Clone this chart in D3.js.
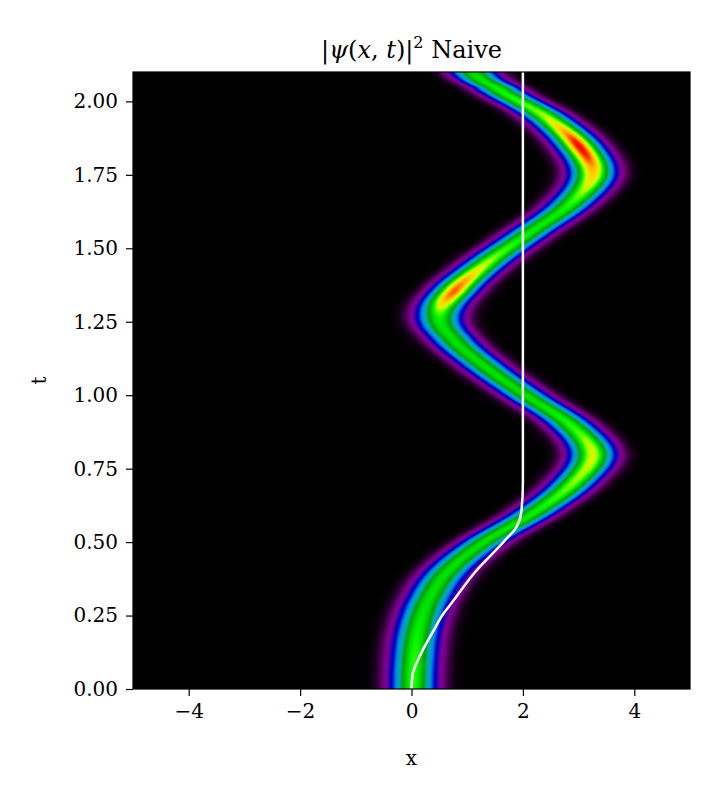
<!DOCTYPE html>
<html><head><meta charset="utf-8">
<script src="https://cdn.jsdelivr.net/npm/d3@7"></script>
<style>body{margin:0;background:#fff}text{font-family:"DejaVu Serif","Liberation Serif",serif}</style>
</head><body><div id="chart"></div>
<script>
// packet track: time, centre, peak intensity
const times   = [0, 0.1, 0.2, 0.3, 0.4, 0.5, 0.6, 0.7, 0.8, 0.9, 1.0, 1.1, 1.2, 1.27, 1.35, 1.45, 1.55, 1.65, 1.75, 1.85, 1.95, 2.05, 2.1]
const centers = [0.03, 0.05, 0.12, 0.3, 0.65, 1.3, 2.2, 2.9, 3.25, 2.85, 2.05, 1.3, 0.7, 0.5, 0.75, 1.35, 2.1, 2.85, 3.25, 3.0, 2.4, 1.5, 1.1]
const peaks   = [0.6, 0.6, 0.58, 0.56, 0.56, 0.56, 0.58, 0.64, 0.68, 0.6, 0.56, 0.56, 0.56, 0.6, 0.82, 0.66, 0.58, 0.6, 0.74, 0.86, 0.66, 0.58, 0.56]
const sigma = 0.25
// expectation value <x>(t), white line
const meanT = [0, 0.05, 0.1, 0.15, 0.2, 0.25, 0.3, 0.4, 0.5, 0.55, 0.6, 0.7, 1.0, 1.5, 2.1]
const meanX = [0, 0.02, 0.12, 0.25, 0.4, 0.55, 0.75, 1.15, 1.65, 1.88, 1.97, 2.0, 2.0, 2.0, 2.0]
const xTicks = [-4, -2, 0, 2, 4]
const tTicks = [0, 0.25, 0.5, 0.75, 1.0, 1.25, 1.5, 1.75, 2.0]

const W = 720, H = 800
const m = {l: 133, r: 30, t: 72, b: 111}
const svg = d3.select("#chart").append("svg").attr("width", W).attr("height", H)
const x = d3.scaleLinear().domain([-5, 5]).range([m.l, W - m.r])
const y = d3.scaleLinear().domain([0, 2.1]).range([H - m.b, m.t])

const stops = ["#000000","#780088","#880099","#0000aa","#0000dd","#0077dd","#0099dd","#00aaaa","#00aa88","#009900",
  "#00bb00","#00dd00","#00ff00","#bbff00","#eeee00","#ffcc00","#ff9900","#ff0000","#dd0000","#cc0000","#cccccc"]
const color = d3.scaleSequential(d3.interpolateRgbBasis(stops)).domain([0, 1])

// smooth (Catmull-Rom) reading of the track between the sampled times
function smooth(ts, vs) {
  return t => {
    let i = d3.bisectRight(ts, t) - 1
    i = Math.max(0, Math.min(ts.length - 2, i))
    const p0 = vs[Math.max(0, i - 1)], p1 = vs[i], p2 = vs[i + 1], p3 = vs[Math.min(vs.length - 1, i + 2)]
    const u = (t - ts[i]) / (ts[i + 1] - ts[i])
    return 0.5 * (2 * p1 + (-p0 + p2) * u + (2 * p0 - 5 * p1 + 4 * p2 - p3) * u * u + (-p0 + 3 * p1 - 3 * p2 + p3) * u * u * u)
  }
}
const cAt = smooth(times, centers)
const pAt = smooth(times, peaks)

const pw = Math.round(x.range()[1] - x.range()[0]), ph = Math.round(y.range()[0] - y.range()[1])
const canvas = document.createElement("canvas")
canvas.width = pw; canvas.height = ph
const ctx = canvas.getContext("2d")
const img = ctx.createImageData(pw, ph)
for (let j = 0; j < ph; j++) {
  const t = y.invert(m.t + j + 0.5)
  const c = cAt(t), p = pAt(t)
  for (let i = 0; i < pw; i++) {
    const xv = x.invert(m.l + i + 0.5)
    const v = p * Math.exp(-((xv - c) ** 2) / (2 * sigma * sigma))
    const col = d3.rgb(color(v))
    const k = (j * pw + i) * 4
    img.data[k] = col.r; img.data[k + 1] = col.g; img.data[k + 2] = col.b; img.data[k + 3] = 255
  }
}
ctx.putImageData(img, 0, 0)
svg.append("image").attr("x", m.l).attr("y", m.t).attr("width", pw).attr("height", ph)
  .attr("preserveAspectRatio", "none").attr("href", canvas.toDataURL())

svg.append("path").datum(meanT.map((t, i) => [meanX[i], t]))
  .attr("d", d3.line().x(d => x(d[0])).y(d => y(d[1])).curve(d3.curveMonotoneY))
  .attr("fill", "none").attr("stroke", "#fff").attr("stroke-width", 2.5)

const fmtX = d => d < 0 ? "\u2212" + Math.abs(d) : d
svg.append("g").attr("transform", `translate(0,${H - m.b})`)
  .call(d3.axisBottom(x).tickValues(xTicks).tickFormat(fmtX).tickSizeOuter(0).tickSize(7).tickPadding(8))
svg.append("g").attr("transform", `translate(${m.l},0)`)
  .call(d3.axisLeft(y).tickValues(tTicks).tickFormat(d3.format(".2f")).tickSizeOuter(0).tickSize(7).tickPadding(8))
svg.selectAll(".tick text").attr("font-size", 20).attr("fill", "#000")
svg.selectAll(".domain").remove()
svg.selectAll(".tick line").attr("stroke-width", 1.2)
svg.append("rect").attr("x", m.l).attr("y", m.t).attr("width", pw).attr("height", ph)
  .attr("fill", "none").attr("stroke", "#000").attr("stroke-width", 1.2)

svg.append("text").attr("x", (m.l + W - m.r) / 2).attr("y", 765).attr("text-anchor", "middle")
  .attr("font-size", 20).text("x")
svg.append("text").attr("transform", `translate(46,${(m.t + H - m.b) / 2}) rotate(-90)`)
  .attr("text-anchor", "middle").attr("font-size", 20).text("t")
const title = svg.append("text").attr("x", (m.l + W - m.r) / 2).attr("y", 58).attr("text-anchor", "middle").attr("font-size", 24)
title.append("tspan").text("|")
title.append("tspan").attr("font-style", "italic").text("ψ")
title.append("tspan").text("(")
title.append("tspan").attr("font-style", "italic").text("x")
title.append("tspan").text(", ")
title.append("tspan").attr("font-style", "italic").text("t")
title.append("tspan").text(")|")
title.append("tspan").attr("font-size", 16).attr("dy", -10).text("2")
title.append("tspan").attr("dy", 10).text(" Naive")
</script></body></html>
